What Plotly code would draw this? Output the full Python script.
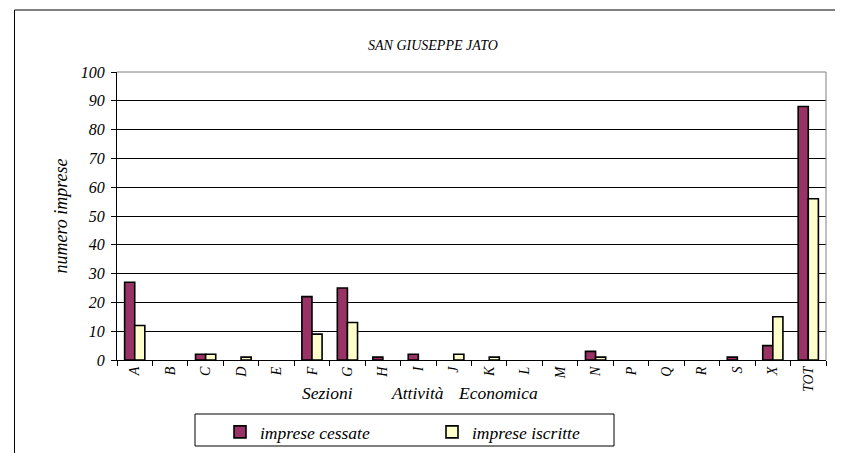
import plotly.graph_objects as go

categories = ["A", "B", "C", "D", "E", "F", "G", "H", "I", "J", "K", "L", "M",
              "N", "P", "Q", "R", "S", "X", "TOT"]
cessate = [27, 0, 2, 0, 0, 22, 25, 1, 2, 0, 0, 0, 0, 3, 0, 0, 0, 1, 5, 88]
iscritte = [12, 0, 2, 1, 0, 9, 13, 0, 0, 2, 1, 0, 0, 1, 0, 0, 0, 0, 15, 56]
y_ticks = [0, 10, 20, 30, 40, 50, 60, 70, 80, 90, 100]

FONT = "Liberation Serif"

fig = go.Figure()
fig.add_trace(go.Bar(x=categories, y=cessate, name="imprese cessate",
                     marker=dict(color="#993366",
                                 line=dict(color="black", width=[1.6 if v else 0 for v in cessate]))))
fig.add_trace(go.Bar(x=categories, y=iscritte, name="imprese iscritte",
                     marker=dict(color="#FFFFCC",
                                 line=dict(color="black", width=[1.6 if v else 0 for v in iscritte]))))

OFF = 8  # page body margin
W, H = 843, 453
L, R, T, B = 117 - OFF, 17 + OFF, 72 - OFF, 93 + OFF
pw, ph = W - L - R, H - T - B

def px(x):
    return (x - OFF - L) / pw

def py(y):
    return (H - B - (y - OFF)) / ph

ital = dict(family=FONT, style="italic")

def label(text, x, y, size):
    return dict(text=text, xref="paper", yref="paper", x=px(x), y=py(y),
                xanchor="center", yanchor="middle", showarrow=False,
                font=dict(**ital, size=size))

fig.update_layout(
    width=W, height=H,
    margin=dict(l=L, r=R, t=T, b=B, autoexpand=False),
    paper_bgcolor="white", plot_bgcolor="white",
    barmode="group", bargap=0.43, bargroupgap=0,
    font=dict(family=FONT, color="black", size=13),
    showlegend=True,
    legend=dict(orientation="h", x=px(220), y=py(414), xanchor="left", yanchor="top",
                borderwidth=0, bgcolor="rgba(0,0,0,0)",
                font=dict(**ital, size=17.5),
                entrywidth=167, entrywidthmode="pixels", itemwidth=30,
                traceorder="normal"),
    xaxis=dict(showline=True, linecolor="black", linewidth=1, automargin=False,
               ticks="outside", ticklen=5, tickcolor="black", tickson="boundaries",
               tickangle=-90, tickfont=dict(**ital, size=14),
               showgrid=False),
    yaxis=dict(range=[0, 100], tickvals=y_ticks, showline=True, linecolor="black", linewidth=1,
               automargin=False,
               ticks="outside", ticklen=5, tickcolor="black", ticklabelstandoff=3,
               tickfont=dict(**ital, size=16),
               gridcolor="black", gridwidth=1, zeroline=False,
               title=dict(text="numero imprese", standoff=8,
                          font=dict(**ital, size=18))),
    shapes=[
        dict(type="rect", xref="paper", yref="paper",
             x0=px(14.5), x1=px(839), y0=py(480), y1=py(10),
             line=dict(color="black", width=1), layer="below"),
        dict(type="rect", xref="paper", yref="paper",
             x0=px(195), x1=px(614), y0=py(446), y1=py(414),
             line=dict(color="black", width=1), fillcolor="white", layer="below"),
        dict(type="line", xref="paper", yref="paper",
             x0=0, x1=1, y0=1, y1=1, line=dict(color="#808080", width=1)),
        dict(type="line", xref="paper", yref="paper",
             x0=1, x1=1, y0=0, y1=1, line=dict(color="#808080", width=1)),
    ],
    annotations=[
        label("SAN GIUSEPPE JATO", 433, 45, 14),
        label("Sezioni", 327.5, 393, 17.5),
        label("Attività", 417.5, 393, 17.5),
        label("Economica", 497.5, 393, 17.5),
    ],
)

fig.write_html("out.html")
